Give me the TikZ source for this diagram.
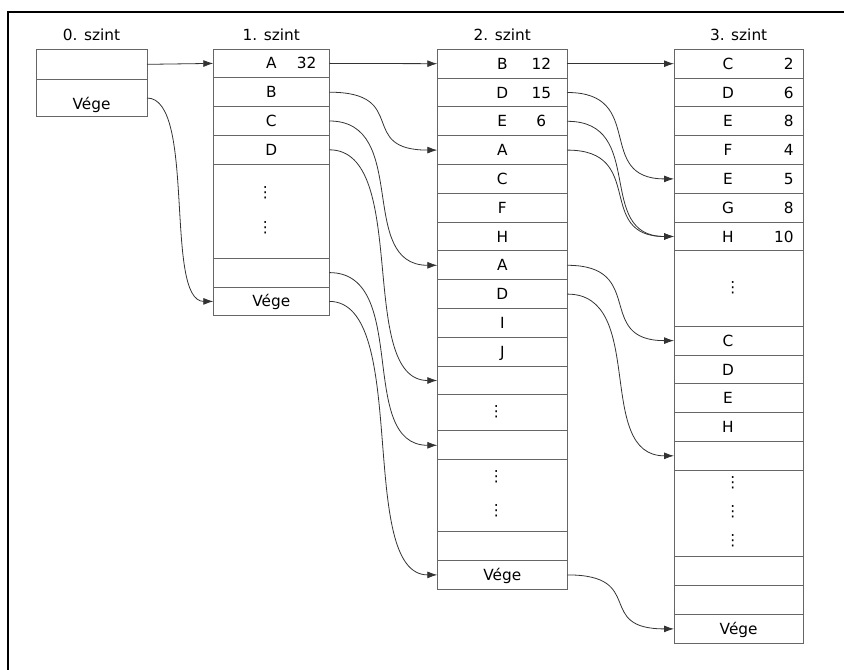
\documentclass[tikz,border=0pt]{standalone}
\usepackage{fontspec}
\setmainfont{DejaVu Sans}
\usepackage{tikz}
\usetikzlibrary{arrows.meta, positioning}

\begin{document}
\begin{tikzpicture}[x=0.75pt, y=-0.75pt, font=\fontsize{11.5}{13}\selectfont,
  cell/.style={draw=black!60, line width=0.6pt, inner sep=0pt, outer sep=0pt, minimum height=21.6pt, text height=8.4pt, text depth=0pt},
  lv0/.style={cell, minimum width=83.25pt},
  lv1/.style={cell, minimum width=87pt},
  lv2/.style={cell, minimum width=97.5pt},
  lv3v/.style={cell, minimum width=97pt},
  lv3/.style={lv3v, execute at end node={\hspace{16pt}}},
  head/.style={inner sep=0pt},
  num/.style={inner sep=0pt, text height=8.4pt, text depth=0pt},
  vdot/.style={inner sep=0pt, xshift=-4.5pt},
  link/.style={draw=black!80, line width=0.6pt, -{Latex[length=7.5pt,width=5.2pt]}},
  swing/.style={out=0, in=180, distance=#1}]
\useasboundingbox (0,0) rectangle (844,670);
\draw[line width=1.5pt] (8,670) -- (8,12) -- (844,12);

% 0. szint
\node[lv0, minimum height=23pt, anchor=north west] (s0r1) at (36,49) {};
\node[lv0, minimum height=27.5pt, text height=17pt, below=0pt of s0r1] (s0r2) {Vége};
\node[head, above=6pt of s0r1] (h0) {0. szint};

% 1. szint
\node[lv1, anchor=north west] (s1r1) at (213.3,49) {A};
\node[lv1, below=0pt of s1r1] (s1r2) {B};
\node[lv1, below=0pt of s1r2] (s1r3) {C};
\node[lv1, below=0pt of s1r3] (s1r4) {D};
\node[lv1, minimum height=70.5pt, below=0pt of s1r4] (s1r5) {};
\node[lv1, below=0pt of s1r5] (s1r6) {};
\node[lv1, below=0pt of s1r6] (s1r7) {Vége};
\node[head, above=6pt of s1r1] (h1) {1. szint};
\node[num] (n1a) at ([xshift=-17pt]s1r1.east) {32};
\node[vdot] (d1a) at ([yshift=13.5pt]s1r5.center) {⋮};
\node[vdot] (d1b) at ([yshift=-12.75pt]s1r5.center) {⋮};

% 2. szint
\node[lv2, anchor=north west] (s2r1) at (437.3,49.3) {B};
\node[lv2, below=0pt of s2r1] (s2r2) {D};
\node[lv2, below=0pt of s2r2] (s2r3) {E};
\node[lv2, below=0pt of s2r3] (s2r4) {A};
\node[lv2, below=0pt of s2r4] (s2r5) {C};
\node[lv2, below=0pt of s2r5] (s2r6) {F};
\node[lv2, below=0pt of s2r6] (s2r7) {H};
\node[lv2, below=0pt of s2r7] (s2r8) {A};
\node[lv2, below=0pt of s2r8] (s2r9) {D};
\node[lv2, below=0pt of s2r9] (s2r10) {I};
\node[lv2, below=0pt of s2r10] (s2r11) {J};
\node[lv2, below=0pt of s2r11] (s2r12) {};
\node[lv2, minimum height=27pt, below=0pt of s2r12] (s2r13) {};
\node[lv2, below=0pt of s2r13] (s2r14) {};
\node[lv2, minimum height=54pt, below=0pt of s2r14] (s2r15) {};
\node[lv2, below=0pt of s2r15] (s2r16) {};
\node[lv2, below=0pt of s2r16] (s2r17) {Vége};
\node[head, above=6pt of s2r1] (h2) {2. szint};
\node[num] (n2a) at ([xshift=-19.5pt]s2r1.east) {12};
\node[num] (n2b) at ([xshift=-19.5pt]s2r2.east) {15};
\node[num] (n2c) at ([xshift=-19.5pt]s2r3.east) {6};
\node[vdot] (d2a) at ([yshift=1pt]s2r13.center) {⋮};
\node[vdot] (d2b) at ([yshift=14.5pt]s2r15.center) {⋮};
\node[vdot] (d2c) at ([yshift=-11pt]s2r15.center) {⋮};

% 3. szint
\node[lv3, anchor=north west] (s3r1) at (674,49.3) {C};
\node[lv3, below=0pt of s3r1] (s3r2) {D};
\node[lv3, below=0pt of s3r2] (s3r3) {E};
\node[lv3, below=0pt of s3r3] (s3r4) {F};
\node[lv3, below=0pt of s3r4] (s3r5) {E};
\node[lv3, below=0pt of s3r5] (s3r6) {G};
\node[lv3, below=0pt of s3r6] (s3r7) {H};
\node[lv3, minimum height=56.5pt, below=0pt of s3r7] (s3r8) {};
\node[lv3, below=0pt of s3r8] (s3r9) {C};
\node[lv3, below=0pt of s3r9] (s3r10) {D};
\node[lv3, below=0pt of s3r10] (s3r11) {E};
\node[lv3, below=0pt of s3r11] (s3r12) {H};
\node[lv3, below=0pt of s3r12] (s3r13) {};
\node[lv3, minimum height=65pt, below=0pt of s3r13] (s3r14) {};
\node[lv3, below=0pt of s3r14] (s3r15) {};
\node[lv3, below=0pt of s3r15] (s3r16) {};
\node[lv3v, below=0pt of s3r16] (s3r17) {Vége};
\node[head, above=6pt of s3r1] (h3) {3. szint};
\node[num, anchor=east] (n3a) at ([xshift=-7pt]s3r1.east) {2};
\node[num, anchor=east] (n3b) at ([xshift=-7pt]s3r2.east) {6};
\node[num, anchor=east] (n3c) at ([xshift=-7pt]s3r3.east) {8};
\node[num, anchor=east] (n3d) at ([xshift=-7pt]s3r4.east) {4};
\node[num, anchor=east] (n3e) at ([xshift=-7pt]s3r5.east) {5};
\node[num, anchor=east] (n3f) at ([xshift=-7pt]s3r6.east) {8};
\node[num, anchor=east] (n3g) at ([xshift=-7pt]s3r7.east) {10};
\node[vdot] (d3a) at ([yshift=1pt]s3r8.center) {⋮};
\node[vdot] (d3b) at ([yshift=23.5pt]s3r14.center) {⋮};
\node[vdot] (d3c) at ([yshift=1.5pt]s3r14.center) {⋮};
\node[vdot] (d3d) at ([yshift=-20pt]s3r14.center) {⋮};

% mutatók
\draw[link] (s0r1.east) -- (s1r1.west);
\draw[link] (s0r2.east) to[swing=37pt] (s1r7.west);
\draw[link] (s1r1.east) -- (s2r1.west);
\draw[link] (s1r2.east) to[swing=61pt] (s2r4.west);
\draw[link] (s1r3.east) to[swing=61pt] (s2r8.west);
\draw[link] (s1r4.east) to[swing=61pt] (s2r12.west);
\draw[link] (s1r6.east) to[swing=61pt] (s2r14.west);
\draw[link] (s1r7.east) to[swing=61pt] (s2r17.west);
\draw[link] (s2r1.east) -- (s3r1.west);
\draw[link] (s2r2.east) to[swing=60pt] (s3r5.west);
\draw[link] (s2r3.east) to[swing=60pt] (s3r7.west);
\draw[link] (s2r4.east) to[swing=60pt] (s3r7.west);
\draw[link] (s2r8.east) to[swing=60pt] (s3r9.west);
\draw[link] (s2r9.east) to[swing=60pt] (s3r13.west);
\draw[link] (s2r17.east) to[swing=60pt] (s3r17.west);
\end{tikzpicture}
\end{document}
